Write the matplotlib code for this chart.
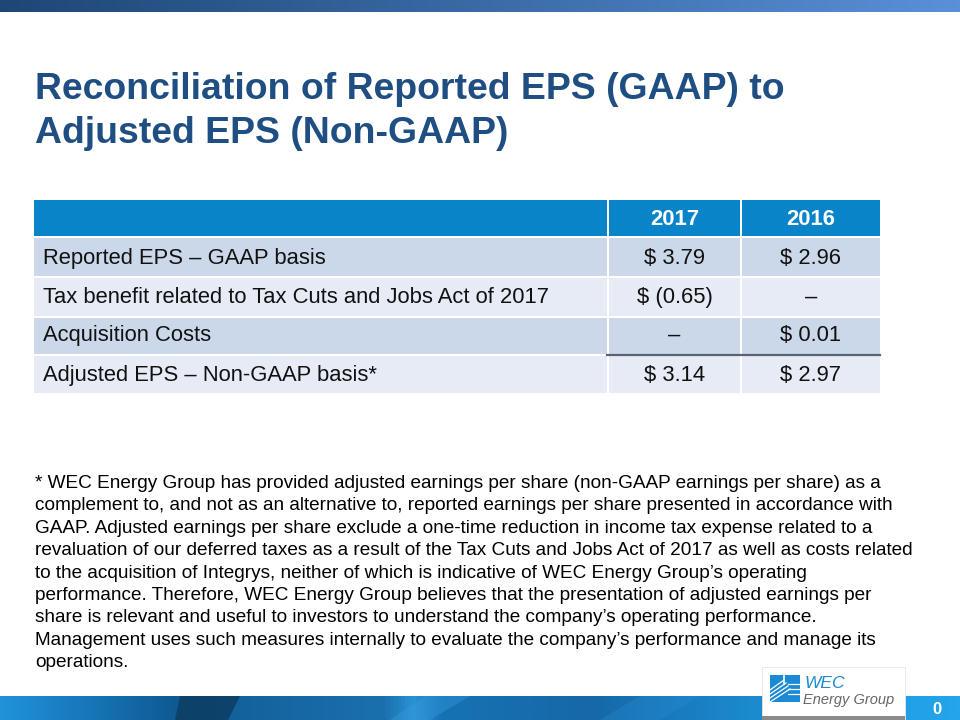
import matplotlib
matplotlib.use("Agg")
import matplotlib.pyplot as plt
import numpy as np
from matplotlib.patches import Rectangle, Polygon
from matplotlib.colors import LinearSegmentedColormap

# ---- data ----
title_lines = ["Reconciliation of Reported EPS (GAAP) to", "Adjusted EPS (Non-GAAP)"]
years = ["2017", "2016"]
row_labels = [
    "Reported EPS \u2013 GAAP basis",
    "Tax benefit related to Tax Cuts and Jobs Act of 2017",
    "Acquisition Costs",
    "Adjusted EPS \u2013 Non-GAAP basis*",
]
eps_2017 = ["$ 3.79", "$ (0.65)", "\u2013", "$ 3.14"]
eps_2016 = ["$ 2.96", "\u2013", "$ 0.01", "$ 2.97"]
footnote_lines = [
    "* WEC Energy Group has provided adjusted earnings per share (non-GAAP earnings per share) as a",
    "complement to, and not as an alternative to, reported earnings per share presented in accordance with",
    "GAAP. Adjusted earnings per share exclude a one-time reduction in income tax expense related to a",
    "revaluation of our deferred taxes as a result of the Tax Cuts and Jobs Act of 2017 as well as costs related",
    "to the acquisition of Integrys, neither of which is indicative of WEC Energy Group\u2019s operating",
    "performance. Therefore, WEC Energy Group believes that the presentation of adjusted earnings per",
    "share is relevant and useful to investors to understand the company\u2019s operating performance.",
    "Management uses such measures internally to evaluate the company\u2019s performance and manage its",
    "operations.",
]
page_number = "0"

plt.rcParams['font.family'] = ['Liberation Sans', 'DejaVu Sans']

fig = plt.figure(figsize=(9.6, 7.2), dpi=100)
ax = fig.add_axes([0, 0, 1, 1])
ax.set_xlim(0, 960)
ax.set_ylim(720, 0)
ax.axis('off')

grad = np.linspace(0, 1, 512).reshape(1, -1)

# top gradient bar
top_cmap = LinearSegmentedColormap.from_list("top", ["#1d4775", "#3a6ba6", "#5a90d8"])
ax.imshow(grad, cmap=top_cmap, extent=(0, 960, 12, 0), aspect='auto', zorder=1)

# bottom gradient bar
bot_cmap = LinearSegmentedColormap.from_list(
    "bot", [(0.0, "#2192da"), (0.10, "#1673b5"), (0.18, "#0f5a92"), (0.25, "#14629c"),
            (0.40, "#1a70ae"), (0.43, "#2a92d4"), (0.46, "#1672b4"), (0.62, "#1668a8"),
            (0.75, "#1a85c8"), (0.95, "#22a0e8"), (1.0, "#25a5ec")])
ax.imshow(grad, cmap=bot_cmap, extent=(0, 960, 720, 696), aspect='auto', zorder=1)
ax.add_patch(Polygon([(175, 720), (180, 696), (240, 696), (228, 720)], closed=True,
                     facecolor='#0c3e62', alpha=0.85, edgecolor='none', zorder=2))
ax.add_patch(Polygon([(390, 720), (425, 696), (470, 696), (430, 720)], closed=True,
                     facecolor='#3aa0e0', alpha=0.35, edgecolor='none', zorder=2))
ax.add_patch(Polygon([(600, 720), (640, 696), (700, 696), (660, 720)], closed=True,
                     facecolor='#2a8fd6', alpha=0.3, edgecolor='none', zorder=2))

# logo box
ax.add_patch(Rectangle((762, 667), 143, 53, facecolor='white', edgecolor='#e6e6e6',
                       lw=0.6, zorder=3))
ax.add_patch(Rectangle((762, 716), 143, 4, facecolor='#8a8a8a', edgecolor='none', zorder=4))
ax.add_patch(Rectangle((770, 675), 30, 27, facecolor='#1a8ad4', edgecolor='none', zorder=4))
ax.plot([784, 784], [675, 684], color='white', lw=1.2, zorder=5)
for k in range(4):
    ax.plot([770, 784 + k * 2], [690 + k * 4, 680 + k * 3], color='white', lw=0.9, zorder=5)
for yy in (684, 689, 694):
    ax.plot([788, 800], [yy, yy], color='white', lw=0.9, zorder=5)
ax.text(804, 683, "WEC", fontsize=12.5, style='italic', color='#1a8ad4',
        va='center', ha='left', zorder=5)
ax.text(803, 700, "Energy Group", fontsize=10.5, style='italic', color='#666666',
        va='center', ha='left', zorder=5)
ax.text(937, 709, page_number, fontsize=12, fontweight='bold', color='white',
        va='center', ha='center', zorder=5)

# title
title_base = [99, 143]
for t, y in zip(title_lines, title_base):
    ax.text(35, y, t, fontsize=26.9, fontweight='bold', color='#1f4e82',
            va='baseline', ha='left')

# table
col_x = [34, 609, 742]
col_w = [573, 131, 138]
header_top, header_h = 200, 36
row_tops = [238, 278, 318, 356]
row_hs = [38, 38, 36, 37]
row_base = [264, 303, 341, 381]
row_colors = ["#cbd8ea", "#e6ebf5", "#cbd8ea", "#e6ebf5"]
header_color = "#0a84c9"
fs_tab = 15.8

for x, w in zip(col_x, col_w):
    ax.add_patch(Rectangle((x, header_top), w, header_h, facecolor=header_color,
                           edgecolor='none', zorder=2))
for j, yr in enumerate(years):
    ax.text(col_x[j + 1] + col_w[j + 1] / 2, 225, yr,
            fontsize=fs_tab, fontweight='bold', color='white', ha='center',
            va='baseline', zorder=3)

for i, (lab, v1, v2) in enumerate(zip(row_labels, eps_2017, eps_2016)):
    top, h, c = row_tops[i], row_hs[i], row_colors[i]
    for x, w in zip(col_x, col_w):
        ax.add_patch(Rectangle((x, top), w, h, facecolor=c, edgecolor='none', zorder=2))
    yb = row_base[i]
    ax.text(43, yb, lab, fontsize=fs_tab, color='#111111', ha='left', va='baseline', zorder=3)
    ax.text(col_x[1] + col_w[1] / 2, yb, v1, fontsize=fs_tab, color='#111111',
            ha='center', va='baseline', zorder=3)
    ax.text(col_x[2] + col_w[2] / 2, yb, v2, fontsize=fs_tab, color='#111111',
            ha='center', va='baseline', zorder=3)

# rule under acquisition costs
ax.plot([607, 880], [354.5, 354.5], color='#5a6470', lw=1.6, zorder=4)

# footnote
fy0, fdy = 488, 22.4
for k, line in enumerate(footnote_lines):
    ax.text(35, fy0 + k * fdy, line, fontsize=13.7, color='black',
            ha='left', va='baseline')

fig.savefig("out.png", dpi=100)
